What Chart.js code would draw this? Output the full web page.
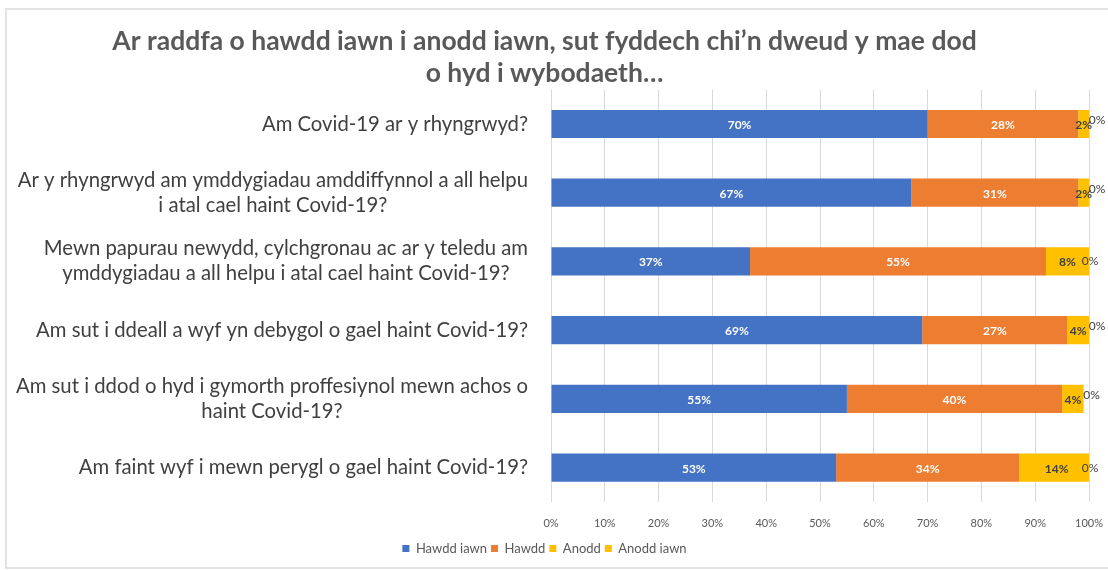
<!DOCTYPE html>
<html>
<head>
<meta charset="utf-8">
<title>Hawdd neu anodd</title>
<script src="https://cdn.jsdelivr.net/npm/chart.js@4.4.0/dist/chart.umd.min.js"></script>
<style>
  html, body { margin: 0; padding: 0; background: #ffffff; }
  #wrap { position: relative; width: 1108px; height: 570px; overflow: hidden; }
  #frame { position: absolute; left: 5px; top: 8px; right: -4px; bottom: 1px;
           border: 2px solid #e3e3e3; pointer-events: none; }
</style>
</head>
<body>
<div id="wrap">
  <canvas id="chart" width="1108" height="570"></canvas>
  <div id="frame"></div>
</div>
<script>
// questions (one array per line of the label)
const questions = [
    ['Am Covid-19 ar y rhyngrwyd?'],
    ['Ar y rhyngrwyd am ymddygiadau amddiffynnol a all helpu', 'i atal cael haint Covid-19?'],
    ['Mewn papurau newydd, cylchgronau ac ar y teledu am', 'ymddygiadau a all helpu i atal cael haint Covid-19?'],
    ['Am sut i ddeall a wyf yn debygol o gael haint Covid-19?'],
    ['Am sut i ddod o hyd i gymorth proffesiynol mewn achos o', 'haint Covid-19?'],
    ['Am faint wyf i mewn perygl o gael haint Covid-19?']
];

const seriesNames = ['Hawdd iawn', 'Hawdd', 'Anodd', 'Anodd iawn'];
const hawddIawn = [70, 67, 37, 69, 55, 53];
const hawdd     = [28, 31, 55, 27, 40, 34];
const anodd     = [2, 2, 8, 4, 4, 14];
const anoddIawn = [0, 0, 0, 0, 0, 0];

const xTicks = [0, 10, 20, 30, 40, 50, 60, 70, 80, 90, 100];

const titleLines = [
    'Ar raddfa o hawdd iawn i anodd iawn, sut fyddech chi\u2019n dweud y mae dod',
    'o hyd i wybodaeth\u2026'
];

const COLORS = ['#4472C4', '#ED7D31', '#FFC000', '#FFC000'];
const FONT = 'Lato, "Open Sans", sans-serif';

// question text, right-aligned block with centred lines
const questionLabels = {
    id: 'questionLabels',
    afterDraw(chart) {
        const { ctx } = chart;
        const y = chart.scales.y;
        const right = chart.chartArea.left - 23;
        const lh = 25;
        ctx.save();
        ctx.font = '20.3px ' + FONT;
        ctx.fillStyle = '#404040';
        ctx.textAlign = 'center';
        ctx.textBaseline = 'middle';
        questions.forEach((lines, i) => {
            const cy = y.getPixelForValue(i);
            const w = Math.max(...lines.map(l => ctx.measureText(l).width));
            const cx = right - w / 2;
            lines.forEach((l, j) => {
                ctx.fillText(l, cx, cy + (j - (lines.length - 1) / 2) * lh);
            });
        });
        ctx.restore();
    }
};

// percentage labels on each segment
const valueLabels = {
    id: 'valueLabels',
    afterDatasetsDraw(chart) {
        const { ctx, chartArea } = chart;
        ctx.save();
        ctx.textAlign = 'center';
        ctx.textBaseline = 'middle';
        chart.data.datasets.forEach((ds, di) => {
            chart.getDatasetMeta(di).data.forEach((bar, i) => {
                const v = ds.data[i];
                let x = (bar.x + bar.base) / 2;
                let y = bar.y + 1;
                if (di < 2) {
                    ctx.font = 'bold 12px ' + FONT;
                    ctx.fillStyle = '#ffffff';
                } else if (di === 2) {
                    ctx.font = 'bold 12px ' + FONT;
                    ctx.fillStyle = '#404040';
                } else {
                    ctx.font = '12px ' + FONT;
                    ctx.fillStyle = '#404040';
                    const crowded = anodd[i] < 6;
                    x = Math.min(bar.x, chartArea.right) + (crowded ? 8 : 1);
                    y = bar.y - (crowded ? 4 : 0);
                }
                ctx.fillText(v + '%', x, y);
            });
        });
        ctx.restore();
    }
};

const series = [hawddIawn, hawdd, anodd, anoddIawn];

new Chart(document.getElementById('chart'), {
    type: 'bar',
    data: {
        labels: questions.map(q => q.join(' ')),
        datasets: series.map((data, i) => ({
            label: seriesNames[i],
            data: data,
            backgroundColor: COLORS[i],
            borderWidth: 0,
            categoryPercentage: 1,
            barPercentage: 0.41
        }))
    },
    options: {
        indexAxis: 'y',
        responsive: false,
        animation: false,
        layout: { padding: { left: 0, right: 19, top: 0, bottom: 5 } },
        scales: {
            x: {
                stacked: true,
                min: 0,
                max: 100,
                afterBuildTicks: s => { s.ticks = xTicks.map(v => ({ value: v })); },
                afterFit: s => { s.height = 36; s.paddingRight = 0; },
                grid: { color: '#d9d9d9', lineWidth: 1, drawTicks: false },
                border: { display: false },
                ticks: {
                    padding: 15,
                    color: '#595959',
                    font: { family: FONT, size: 11 },
                    callback: v => v + '%'
                }
            },
            y: {
                stacked: true,
                grid: { display: false },
                border: { display: false },
                ticks: { display: false },
                afterFit: s => { s.width = 551; }
            }
        },
        plugins: {
            title: {
                display: true,
                text: titleLines,
                color: '#595959',
                font: { family: FONT, size: 26.5, weight: 'bold', lineHeight: 1.2 },
                padding: { top: 26, bottom: 0 }
            },
            legend: {
                position: 'bottom',
                labels: {
                    boxWidth: 7,
                    boxHeight: 7,
                    padding: 4,
                    color: '#595959',
                    font: { family: FONT, size: 13 }
                }
            },
            tooltip: { enabled: false }
        }
    },
    plugins: [questionLabels, valueLabels]
});
</script>
</body>
</html>
